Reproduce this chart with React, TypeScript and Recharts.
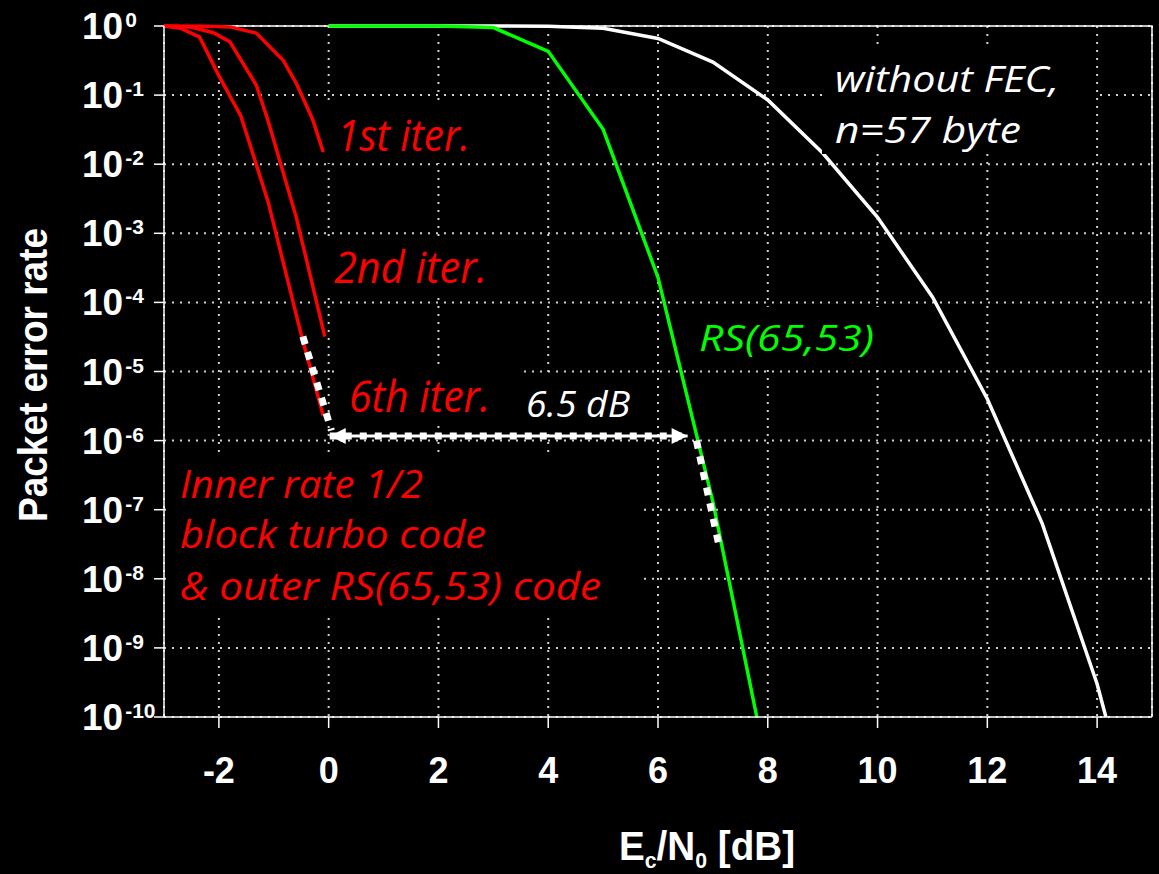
import React from 'react';
import { LineChart, Line, XAxis, YAxis, CartesianGrid } from 'recharts';

const W = 1159;
const H = 874;
const RED = '#ff0000';
const GREEN = '#00ff00';
const WHITE = '#ffffff';

// x axis: Ec/N0 [dB], y axis: packet error rate (log)
const xTicks = [-2, 0, 2, 4, 6, 8, 10, 12, 14];
const yTicks = [1, 1e-1, 1e-2, 1e-3, 1e-4, 1e-5, 1e-6, 1e-7, 1e-8, 1e-9, 1e-10];

// turbo code, 1st / 2nd / 6th iteration
const iter1X = [-3, -2.2, -1.8, -1.32, -0.83, -0.59, -0.29, -0.1];
const iter1Y = [1, 0.99, 0.97, 0.79, 0.32, 0.148, 0.044, 0.015];
const iter2X = [-3, -2.5, -2.1, -1.8, -1.32, -1.11, -0.59, -0.07];
const iter2Y = [1, 0.96, 0.8, 0.59, 0.14, 0.044, 1.7e-3, 3.2e-5];
const iter6X = [-3, -2.7, -2.35, -2.0, -1.6, -1.1, -0.5, -0.1];
const iter6Y = [1, 0.93, 0.69, 0.19, 0.05, 2.8e-3, 3.4e-5, 2.3e-6];

// RS(65,53) alone
const rsX = [0, 1, 2, 3, 4, 5, 6, 7, 7.8];
const rsY = [1, 1, 1, 0.95, 0.43, 0.032, 2.3e-4, 1.3e-7, 1e-10];

// without FEC, n=57 byte
const rawX = [0, 1, 2, 3, 4, 5, 6, 7, 8, 9, 10, 11, 12, 13, 14, 14.16];
const rawY = [1, 1, 1, 1, 0.99, 0.93, 0.66, 0.3, 0.085, 0.0145, 1.7e-3, 1.2e-4, 4e-6, 6.3e-8, 3e-10, 1e-10];

// dotted extrapolations and the 6.5 dB arrow
const ext6X = [-0.47, 0.05];
const ext6Y = [3.2e-5, 1.4e-6];
const extRsX = [6.7, 7.12];
const extRsY = [1e-6, 2.8e-8];
const arrowX = [0.02, 6.54];
const arrowY = [1.17e-6, 1.17e-6];

// plot frame (top and right edge)
const frameX = [-3, 15, 15];
const frameY = [1, 1, 1e-10];

const pts = (xs: number[], ys: number[]) => xs.map((x, i) => ({ x, y: ys[i] }));

const AXIS_FONT = "'Liberation Sans', Arial, sans-serif";
const NOTE_FONT = "'Open Sans', 'Noto Sans', sans-serif";

const YTick = (props: any) => {
  const { y, payload } = props;
  const exp = Math.round(Math.log10(payload.value));
  return (
    <text x={82} y={y + 13} fill={WHITE} fontFamily={AXIS_FONT} fontWeight="bold">
      <tspan fontSize={37}>10</tspan>
      <tspan fontSize={21} dx={2} dy={-12}>{String(exp)}</tspan>
    </text>
  );
};

const XTick = (props: any) => {
  const { x, payload } = props;
  return (
    <text x={x} y={783} textAnchor="middle" fill={WHITE} fontFamily={AXIS_FONT} fontWeight="bold" fontSize={36}>
      {payload.value}
    </text>
  );
};

const ArrowHead = (props: any) => {
  const { cx, cy, index } = props;
  const d = index === 0 ? -1 : 1;
  return (
    <polygon
      key={`head-${index}`}
      points={`${cx},${cy} ${cx - d * 16},${cy - 8} ${cx - d * 16},${cy + 8}`}
      fill={WHITE}
    />
  );
};

type Note = { text: string[]; x: number; y: number[]; len: number[]; size: number; color: string; box: number[] };

// text boxes of the slide: black fill hides the grid behind them
const notes: Note[] = [
  { text: ['1st iter.'], x: 337, y: [151], len: [133], size: 43, color: RED, box: [326, 105, 500, 163] },
  { text: ['2nd iter.'], x: 334, y: [283], len: [153], size: 43, color: RED, box: [322, 237, 520, 295] },
  { text: ['6th iter.'], x: 349, y: [412], len: [141], size: 43, color: RED, box: [335, 366, 520, 424] },
  { text: ['6.5 dB'], x: 526, y: [417], len: [104], size: 37, color: WHITE, box: [522, 378, 650, 428] },
  { text: ['RS(65,53)'], x: 699, y: [351], len: [175], size: 36, color: GREEN, box: [686, 307, 905, 364] },
  {
    text: ['without FEC,', 'n=57 byte'], x: 835, y: [92, 143], len: [224, 186], size: 37, color: WHITE,
    box: [822, 47, 1094, 154],
  },
  {
    text: ['Inner rate 1/2', 'block turbo code', '& outer RS(65,53) code'], x: 180, y: [498, 548, 600],
    len: [243, 306, 421], size: 38, color: RED, box: [168, 452, 640, 614],
  },
];

export default function App() {
  const common = { dataKey: 'y', dot: false, isAnimationActive: false, activeDot: false } as const;
  return (
    <div style={{ position: 'absolute', left: 0, top: 0, width: W, height: H, background: '#000' }}>
      <LineChart width={W} height={H} margin={{ top: 26, right: 7, bottom: 0, left: 0 }}>
        <CartesianGrid stroke="#d0d0d0" strokeWidth={2} strokeDasharray="2 6" />
        <XAxis
          type="number"
          dataKey="x"
          domain={[-3, 15]}
          ticks={xTicks}
          interval={0}
          height={157}
          stroke={WHITE}
          strokeWidth={1.5}
          tickSize={11}
          tick={XTick}
        />
        <YAxis
          type="number"
          scale="log"
          domain={[1e-10, 1]}
          ticks={yTicks}
          interval={0}
          width={164}
          stroke={WHITE}
          strokeWidth={1.5}
          tickSize={10}
          tick={YTick}
        />
        <Line {...common} data={pts(frameX, frameY)} stroke={WHITE} strokeWidth={1.5} />
        <Line {...common} data={pts(rawX, rawY)} stroke={WHITE} strokeWidth={3.5} />
        <Line {...common} data={pts(rsX, rsY)} stroke={GREEN} strokeWidth={3.5} />
        <Line {...common} data={pts(iter1X, iter1Y)} stroke={RED} strokeWidth={3.5} />
        <Line {...common} data={pts(iter2X, iter2Y)} stroke={RED} strokeWidth={3.5} />
        <Line {...common} data={pts(iter6X, iter6Y)} stroke={RED} strokeWidth={3.5} />
        <Line {...common} data={pts(ext6X, ext6Y)} stroke={WHITE} strokeWidth={7} strokeDasharray="8 8" />
        <Line {...common} data={pts(extRsX, extRsY)} stroke={WHITE} strokeWidth={7} strokeDasharray="8 8" />
        <Line {...common} data={pts(arrowX, arrowY)} stroke={WHITE} strokeWidth={3} />
        <Line
          {...common}
          data={pts(arrowX, arrowY)}
          stroke={WHITE}
          strokeWidth={7}
          strokeDasharray="7 8"
          dot={ArrowHead}
        />
      </LineChart>
      <svg width={W} height={H} style={{ position: 'absolute', left: 0, top: 0, pointerEvents: 'none' }}>
        {notes.map((n, i) => (
          <g key={i}>
            <rect x={n.box[0]} y={n.box[1]} width={n.box[2] - n.box[0]} height={n.box[3] - n.box[1]} fill="#000" />
            {n.text.map((t, j) => (
              <text
                key={j}
                x={n.x}
                y={n.y[j]}
                fill={n.color}
                fontSize={n.size}
                fontStyle="italic"
                fontFamily={NOTE_FONT}
                textLength={n.len[j]}
                lengthAdjust="spacingAndGlyphs"
              >
                {t}
              </text>
            ))}
          </g>
        ))}
        <text
          transform="translate(47,375) rotate(-90)"
          textAnchor="middle"
          fill={WHITE}
          fontSize={40}
          fontWeight="bold"
          fontFamily={AXIS_FONT}
          textLength={294}
          lengthAdjust="spacingAndGlyphs"
        >
          Packet error rate
        </text>
        <text
          x={619}
          y={860}
          fill={WHITE}
          fontSize={40}
          fontWeight="bold"
          fontFamily={AXIS_FONT}
          textLength={176}
          lengthAdjust="spacingAndGlyphs"
        >
          E<tspan fontSize={22} dy={8}>c</tspan>
          <tspan dy={-8}>/N</tspan>
          <tspan fontSize={22} dy={8}>0</tspan>
          <tspan dy={-8}> [dB]</tspan>
        </text>
      </svg>
    </div>
  );
}
